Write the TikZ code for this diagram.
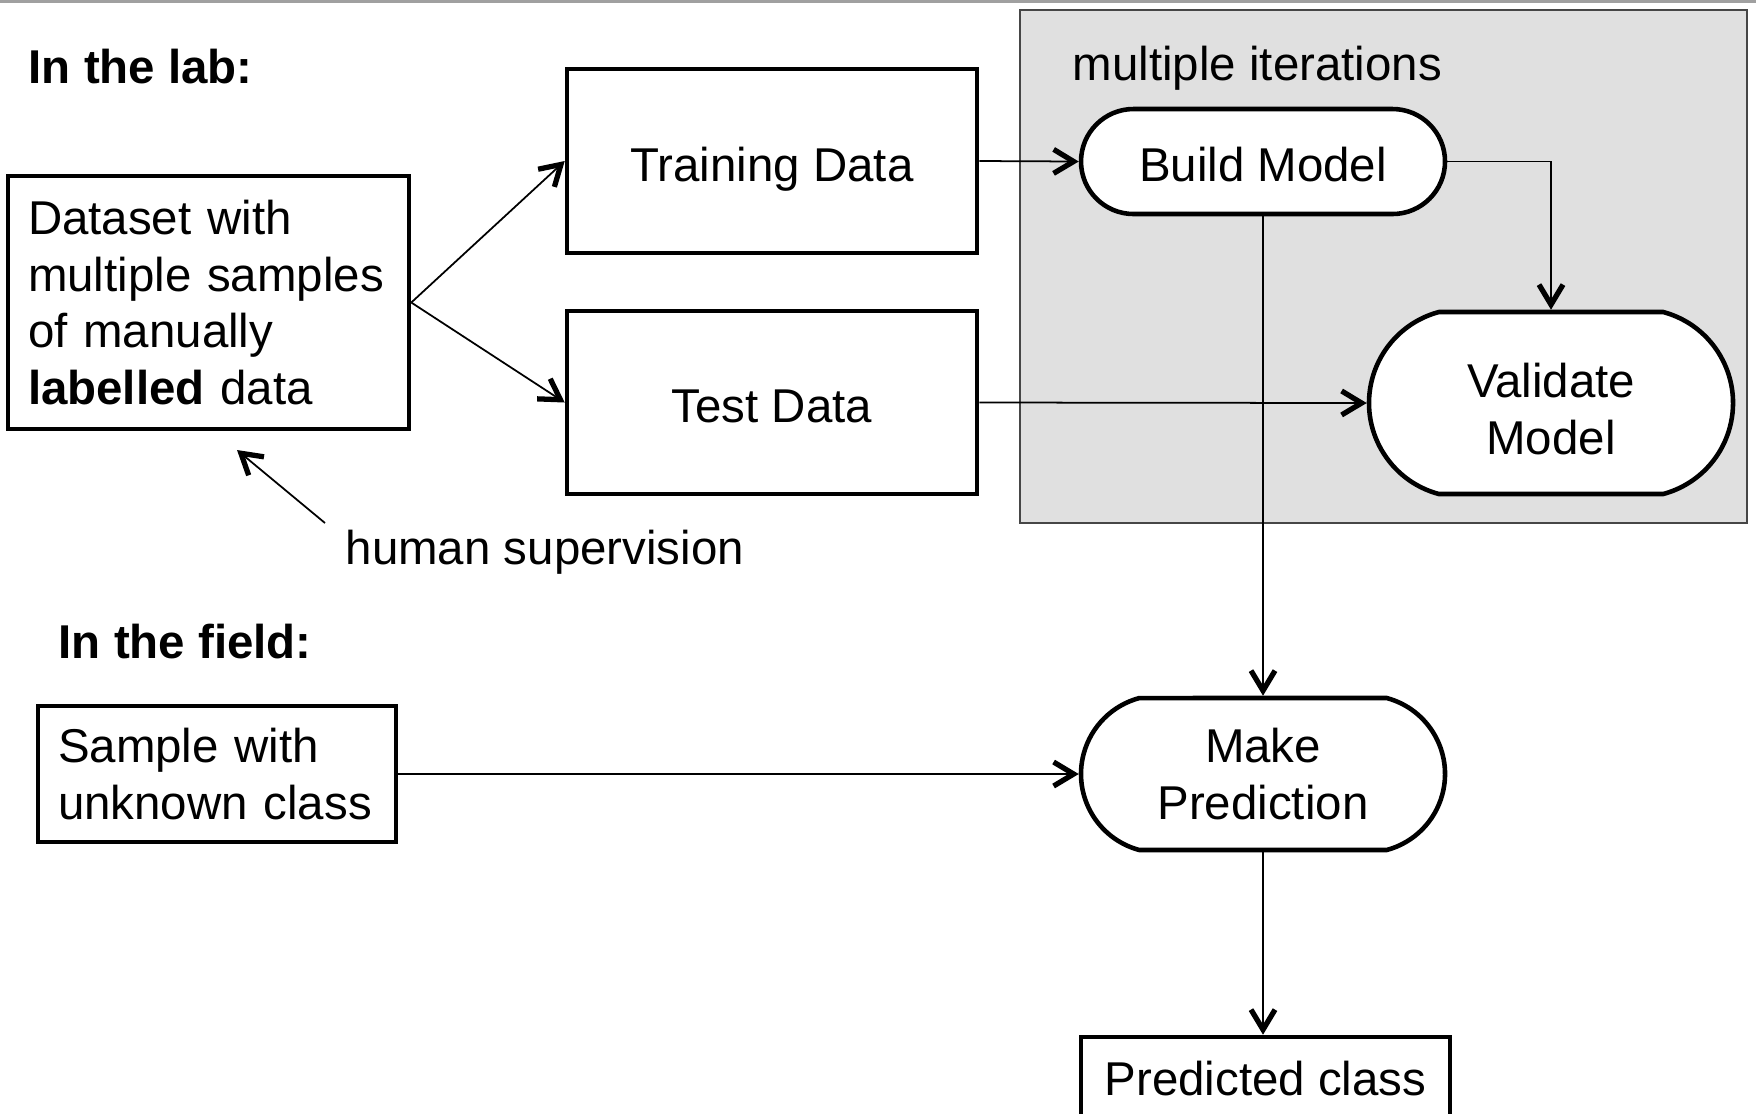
\documentclass[tikz,border=0pt]{standalone}
\usepackage{fontspec}
\setmainfont{Liberation Sans}
\usetikzlibrary{arrows.meta,shapes.misc}
\newcommand{\flowfont}{\fontsize{13.5}{16.2}\selectfont}
\tikzset{
  box/.style={draw, line width=1.3pt, fill=white, inner sep=0pt, font=\flowfont, align=center},
  oneline/.style={text height=12.8pt, text depth=1.35pt},
  pill/.style={box, rounded rectangle},
  flow/.style={-{Straight Barb[length=2mm, width=2.4mm, line width=1.5pt]}, line width=0.5pt},
  lbl/.style={font=\flowfont, anchor=west, inner sep=0pt},
  head/.style={lbl, font=\flowfont\bfseries},
}
\definecolor{iterfill}{RGB}{224,224,224}
\definecolor{iterline}{RGB}{70,70,70}
\definecolor{rule}{RGB}{160,160,160}

\begin{document}
\begin{tikzpicture}
  \useasboundingbox (0,0) rectangle (17.56,-11.13);
  \draw[rule, line width=0.8pt] (0,-0.015) -- (17.56,-0.015);
  % lab part
  \node[head] (lab) at (0.28,-0.67) {In the lab:};
  \draw[fill=iterfill, draw=iterline, line width=0.6pt] (10.20,-0.10) rectangle (17.47,-5.23);
  \node[lbl] (iter) at (10.72,-0.685) {multiple iterations};
  \node[box, align=left, text width=3.61cm, inner xsep=0.2cm, minimum height=2.53cm] (data) at (2.085,-3.025)
    {Dataset with\\multiple samples\\of manually\\\textbf{labelled} data};
  \node[box, oneline, minimum width=4.10cm, minimum height=1.84cm] (train) at (7.72,-1.61) {Training Data};
  \node[box, oneline, minimum width=4.10cm, minimum height=1.83cm] (test) at (7.72,-4.025) {Test Data};
  \node[pill, oneline, minimum width=3.64cm, minimum height=1.05cm] (build) at (12.63,-1.615) {Build Model};
  \node[pill, rounded rectangle arc length=150, minimum width=3.64cm, minimum height=1.82cm] (valid) at (15.51,-4.03)
    {\rule{0pt}{0.97em}Validate\\Model};
  \node[lbl] (sup) at (3.45,-5.525) {human supervision};
  \coordinate (supfrom) at (3.25,-5.23);
  \coordinate (supto) at (2.37,-4.50);
  % field part
  \node[head] (field) at (0.58,-6.42) {In the field:};
  \node[box, align=left, text width=3.18cm, inner xsep=0.2cm, minimum height=1.36cm] (sample) at (2.17,-7.74)
    {Sample with\\unknown class};
  \node[pill, rounded rectangle arc length=150, minimum width=3.64cm, minimum height=1.52cm] (pred) at (12.63,-7.74) {Make\\Prediction};
  \node[box, minimum width=3.69cm, minimum height=0.84cm] (result) at (12.655,-10.79) {Predicted class};
  % connectors
  \draw[flow] (data.east) -- (train.west);
  \draw[flow] (data.east) -- (test.west);
  \draw[flow] (supfrom) -- (supto);
  \draw[flow] (train.east) -- (build.west);
  \draw[flow] (build.east) -| (valid.north);
  \draw[flow] (test.east) -- (valid.west);
  \draw[flow] (build.south) -- (pred.north);
  \draw[flow] (sample.east) -- (pred.west);
  \draw[flow] (pred.south) -- (pred.south |- result.north);
\end{tikzpicture}
\end{document}
